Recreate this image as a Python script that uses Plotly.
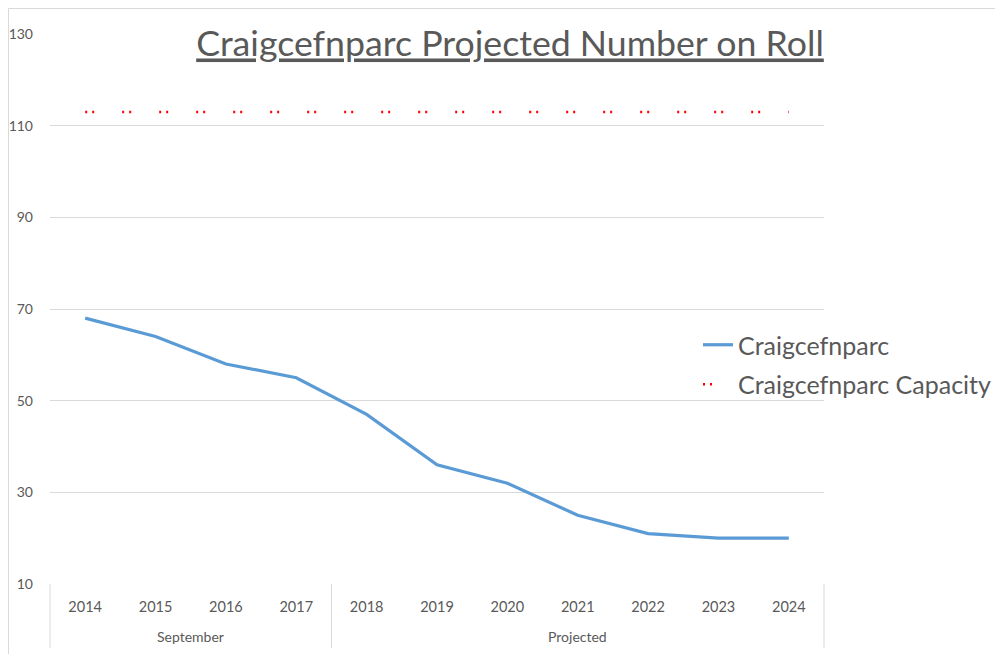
import plotly.graph_objects as go

years = ["2014", "2015", "2016", "2017", "2018", "2019", "2020", "2021", "2022", "2023", "2024"]
groups = ["September", "Projected"]
group_sizes = [4, 7]
roll = [68, 64, 58, 55, 47, 36, 32, 25, 21, 20, 20]
capacity = [113] * 11
y_ticks = [10, 30, 50, 70, 90, 110, 130]

# page offset (body margin) compensation: figure coords = page coords - 8
OFF = 8
W, H = 1003 - OFF, 654 - OFF
L, R, T, B = 50 - OFF, 1003 - 824, 34 - OFF, 654 - 584
pw, ph = W - L - R, H - T - B

def px_x(p):
    return (p - OFF - L) / pw

def px_y(p):
    return (H - B - (p - OFF)) / ph

FONT = "Lato"
GREY = "#595959"

fig = go.Figure()
fig.add_trace(go.Scatter(x=years, y=roll, mode="lines", name="Craigcefnparc",
                         legendgroup="a", line=dict(color="#5B9BD5", width=3.2)))
fig.add_trace(go.Scatter(x=years, y=capacity, mode="lines", name="Craigcefnparc Capacity",
                         legendgroup="b",
                         line=dict(color="#FF0000", width=2.5, dash="2px,5px,2px,28px")))

shapes = []
n = len(years)
edges = [0]
for s in group_sizes:
    edges.append(edges[-1] + s)
for e in edges:
    xp = e / n
    shapes.append(dict(type="line", xref="paper", yref="paper", x0=xp, x1=xp,
                       y0=0, y1=px_y(648), line=dict(color="#d9d9d9", width=1)))
# chart area border
shapes.append(dict(type="line", xref="paper", yref="paper", x0=px_x(8.5), x1=px_x(1003),
                   y0=px_y(8.5), y1=px_y(8.5), line=dict(color="#d9d9d9", width=1)))
shapes.append(dict(type="line", xref="paper", yref="paper", x0=px_x(8.5), x1=px_x(8.5),
                   y0=px_y(8.5), y1=px_y(654), line=dict(color="#d9d9d9", width=1)))

annotations = []
for i, g in enumerate(groups):
    a, b = edges[i], edges[i + 1]
    annotations.append(dict(text=g, xref="paper", yref="paper", x=(a + b) / 2 / n,
                            y=px_y(636), showarrow=False, xanchor="center", yanchor="middle",
                            font=dict(family=FONT, size=14, color=GREY)))

fig.update_layout(
    width=W, height=H,
    margin=dict(l=L, r=R, t=T, b=B, autoexpand=False),
    paper_bgcolor="white", plot_bgcolor="white",
    title=dict(text="<u>Craigcefnparc Projected Number on Roll</u>", x=(510 - OFF) / W,
               xanchor="center", y=1 - (44 - OFF) / H, yanchor="middle",
               font=dict(family=FONT, size=35.7, color=GREY)),
    xaxis=dict(type="category", range=[-0.5, n - 0.5], showgrid=False, zeroline=False,
               showline=False, ticks="", tickfont=dict(family=FONT, size=14.5, color=GREY),
               ticklabelstandoff=12, automargin=False),
    yaxis=dict(range=[10, 130], tickvals=y_ticks, showgrid=True, gridcolor="#d9d9d9",
               gridwidth=1, zeroline=False, showline=False, ticks="",
               tickfont=dict(family=FONT, size=14, color=GREY), ticklabelstandoff=16,
               automargin=False),
    legend=dict(x=px_x(698), y=px_y(322), xanchor="left", yanchor="top",
                font=dict(family=FONT, size=25, color=GREY), bgcolor="rgba(0,0,0,0)",
                itemwidth=30, tracegroupgap=4),
    shapes=shapes, annotations=annotations, showlegend=True,
)

fig.write_html("out.html")
